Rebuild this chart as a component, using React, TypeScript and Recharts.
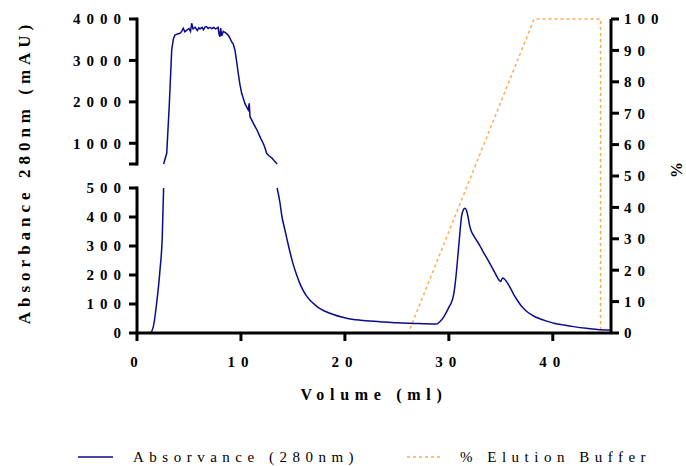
import React from 'react';
import { ComposedChart, Line, XAxis, YAxis, Legend, ReferenceLine, Label } from 'recharts';

// absorbance trace (ml, mAU)
const volume = [
  0, 1.25, 1.57, 1.89, 2.21, 2.43, 2.56, 2.86, 3.1, 3.34, 3.5, 3.65, 3.9, 4.13, 4.3, 4.45, 4.6, 4.8, 5.0,
  5.15, 5.26, 5.4, 5.6, 5.8, 5.95, 6.06, 6.25, 6.4, 6.55, 6.7, 6.85, 7.0, 7.2, 7.4, 7.55, 7.66, 7.8, 7.9,
  7.98, 8.05, 8.15, 8.3, 8.5, 8.7, 8.9, 9.1, 9.25, 9.42, 9.6, 9.74, 9.9, 10.07, 10.4, 10.7, 10.8, 10.87,
  11.2, 11.6, 11.9, 12.14, 12.3, 12.47, 12.7, 13.0, 13.2, 13.48, 13.75, 13.95, 14.2, 14.45, 14.71, 15.0,
  15.36, 15.8, 16.32, 17.28, 18.56, 20.16, 21.5, 23.37, 25.0, 26.57, 28.82, 29.13, 29.5, 29.78, 30.1,
  30.3, 30.5, 30.7, 30.89, 31.05, 31.22, 31.4, 31.54, 31.7, 31.85, 32.0, 32.18, 32.4, 32.66, 33.0, 33.3,
  33.6, 33.94, 34.4, 34.9, 35.0, 35.16, 35.35, 35.55, 35.85, 36.18, 36.6, 37.0, 37.47, 38.0, 38.75, 39.5,
  40.2, 40.99, 42.0, 43.24, 44.3, 45.48,
];
const absorbance = [
  0, 0, 22, 103, 217, 332, 500, 758, 1900, 3252, 3520, 3614, 3640, 3655, 3700, 3776, 3690, 3730, 3770,
  3700, 3897, 3760, 3800, 3720, 3790, 3760, 3800, 3740, 3810, 3814, 3770, 3800, 3770, 3795, 3760, 3776, 3800, 3620,
  3573, 3780, 3590, 3700, 3670, 3630, 3560, 3452, 3400, 3252, 2950, 2690, 2420, 2207, 1950, 1804, 1965, 1642,
  1480, 1290, 1120, 1000, 900, 758, 700, 640, 580, 500, 450, 400, 360, 320, 280, 240,
  200, 160, 127, 92, 68, 51, 44, 39, 35, 33, 31, 39, 55, 73, 95,
  110, 140, 200, 275, 340, 401, 425, 430, 422, 400, 370, 349, 335, 320, 300, 280,
  262, 240, 210, 180, 178, 190, 186, 177, 160, 137, 112, 92, 75, 62, 49, 40,
  33, 28, 22, 16, 12, 10,
];

// elution buffer gradient (ml, %)
const elutionVolume = [0, 26.1, 38.2, 44.6, 44.6];
const elutionPercent = [0, 0, 100, 100, 0];

const xTicks = [0, 10, 20, 30, 40];
const lowerTicks = [0, 100, 200, 300, 400, 500];
const upperTicks = [500, 1000, 2000, 3000, 4000];
const percentTicks = [0, 10, 20, 30, 40, 50, 60, 70, 80, 90, 100];

// broken left axis: 0-500 below the break, 500-4000 above it, on one display scale
const BREAK = 500;
const TOP = 4000;
const LOWER_SPAN = 145;
const GAP = 24;
const UPPER_SPAN = 145;
const toLower = (v: number) => (v / BREAK) * LOWER_SPAN;
const toUpper = (v: number) => LOWER_SPAN + GAP + ((v - BREAK) / (TOP - BREAK)) * UPPER_SPAN;
const DISPLAY_MAX = toUpper(TOP);

const leftTicks = [...lowerTicks.map(toLower), ...upperTicks.map(toUpper)];
const leftLabels = [...lowerTicks.map(String), ...upperTicks.map((t) => (t === BREAK ? '' : String(t)))];

const absRows = volume.map((vol, i) => {
  const v = absorbance[i];
  return {
    vol,
    lower: v <= BREAK ? toLower(v) : null,
    upper: v >= BREAK ? toUpper(v) : null,
  };
});

const elutionRows = elutionVolume.map((vol, i) => ({ vol, pct: elutionPercent[i] }));

const SERIF = "'Liberation Serif', 'Times New Roman', serif";
const BLUE = '#0b0b8c';
const ORANGE = '#ffa94d';

const tickText = { fill: '#000', fontSize: 15, fontWeight: 700, fontFamily: SERIF, letterSpacing: 6 };

const SerifTick = (props: any) => {
  const { x, y, payload, textAnchor, verticalAnchor, labels, index } = props;
  const dy = verticalAnchor === 'start' ? '0.71em' : '0.355em';
  const text = labels ? labels[index] : payload.value;
  return (
    <text x={x} y={y} dy={dy} textAnchor={textAnchor} style={tickText}>
      {text}
    </text>
  );
};

const renderLegend = () => (
  <div
    style={{
      height: 30,
      boxSizing: 'border-box',
      paddingTop: 11,
      paddingLeft: 78,
      display: 'flex',
      alignItems: 'center',
      fontFamily: SERIF,
      fontSize: 15,
      lineHeight: '16px',
      letterSpacing: 5.5,
      color: '#000',
    }}
  >
    <svg width={35} height={6}>
      <line x1={0} y1={3} x2={35} y2={3} stroke={BLUE} strokeWidth={1.5} />
    </svg>
    <span style={{ marginLeft: 20 }}>Absorvance (280nm)</span>
    <svg width={35} height={6} style={{ marginLeft: 48 }}>
      <line x1={0} y1={3} x2={35} y2={3} stroke={ORANGE} strokeWidth={1.5} strokeDasharray="3 3" />
    </svg>
    <span style={{ marginLeft: 18 }}>% Elution Buffer</span>
  </div>
);

const App: React.FC = () => {
  return (
    <div style={{ position: 'absolute', left: 0, top: 0 }}>
      <ComposedChart width={686} height={466} margin={{ top: 19, right: 0, bottom: 0, left: 0 }}>
        <XAxis
          dataKey="vol"
          type="number"
          domain={[0, 45.6]}
          ticks={xTicks}
          allowDataOverflow
          height={103}
          tickSize={8}
          tickMargin={15}
          axisLine={{ stroke: '#000', strokeWidth: 3 }}
          tickLine={{ stroke: '#000', strokeWidth: 3 }}
          tick={<SerifTick />}
        >
          <Label
            content={({ viewBox }: any) => (
              <text
                x={viewBox.x + viewBox.width / 2}
                y={viewBox.y + 67}
                textAnchor="middle"
                style={{ fontFamily: SERIF, fontSize: 16, fontWeight: 700, letterSpacing: 5.7 }}
              >
                Volume (ml)
              </text>
            )}
          />
        </XAxis>
        <YAxis
          yAxisId="left"
          type="number"
          domain={[0, DISPLAY_MAX]}
          ticks={leftTicks}
          interval={0}
          width={137}
          tickSize={8}
          tickMargin={2}
          axisLine={false}
          tickLine={{ stroke: '#000', strokeWidth: 3 }}
          tick={<SerifTick labels={leftLabels} />}
        >
          <Label
            content={({ viewBox }: any) => {
              const cx = viewBox.x + 24;
              const cy = viewBox.y + viewBox.height / 2 - 4;
              return (
                <text
                  x={cx}
                  y={cy}
                  transform={`rotate(-90 ${cx} ${cy})`}
                  textAnchor="middle"
                  dominantBaseline="central"
                  style={{ fontFamily: SERIF, fontSize: 17, fontWeight: 700, letterSpacing: 5 }}
                >
                  Absorbance 280nm (mAU)
                </text>
              );
            }}
          />
        </YAxis>
        <YAxis
          yAxisId="right"
          orientation="right"
          type="number"
          domain={[0, 100]}
          ticks={percentTicks}
          interval={0}
          width={75}
          tickSize={8}
          tickMargin={5}
          axisLine={{ stroke: '#000', strokeWidth: 3 }}
          tickLine={{ stroke: '#000', strokeWidth: 3 }}
          tick={<SerifTick />}
        >
          <Label
            content={({ viewBox }: any) => {
              const cx = viewBox.x + 65;
              const cy = viewBox.y + 151;
              return (
                <text
                  x={cx}
                  y={cy}
                  transform={`rotate(-90 ${cx} ${cy})`}
                  textAnchor="middle"
                  dominantBaseline="central"
                  style={{ fontFamily: SERIF, fontSize: 16, fontWeight: 700 }}
                >
                  %
                </text>
              );
            }}
          />
        </YAxis>
        <ReferenceLine
          yAxisId="left"
          segment={[{ x: 0, y: 0 }, { x: 0, y: toLower(BREAK) }]}
          stroke="#000"
          strokeWidth={3}
          strokeLinecap="square"
          ifOverflow="visible"
        />
        <ReferenceLine
          yAxisId="left"
          segment={[{ x: 0, y: toUpper(BREAK) }, { x: 0, y: toUpper(TOP) }]}
          stroke="#000"
          strokeWidth={3}
          strokeLinecap="square"
          ifOverflow="visible"
        />
        <Line
          yAxisId="right"
          data={elutionRows}
          dataKey="pct"
          type="linear"
          stroke={ORANGE}
          strokeWidth={1.5}
          strokeDasharray="3 3"
          dot={false}
          isAnimationActive={false}
        />
        <Line
          yAxisId="left"
          data={absRows}
          dataKey="lower"
          type="monotone"
          stroke={BLUE}
          strokeWidth={1.5}
          dot={false}
          connectNulls={false}
          isAnimationActive={false}
        />
        <Line
          yAxisId="left"
          data={absRows}
          dataKey="upper"
          type="linear"
          stroke={BLUE}
          strokeWidth={1.5}
          dot={false}
          connectNulls={false}
          isAnimationActive={false}
        />
        <Legend verticalAlign="bottom" content={renderLegend} />
      </ComposedChart>
    </div>
  );
};

export default App;
